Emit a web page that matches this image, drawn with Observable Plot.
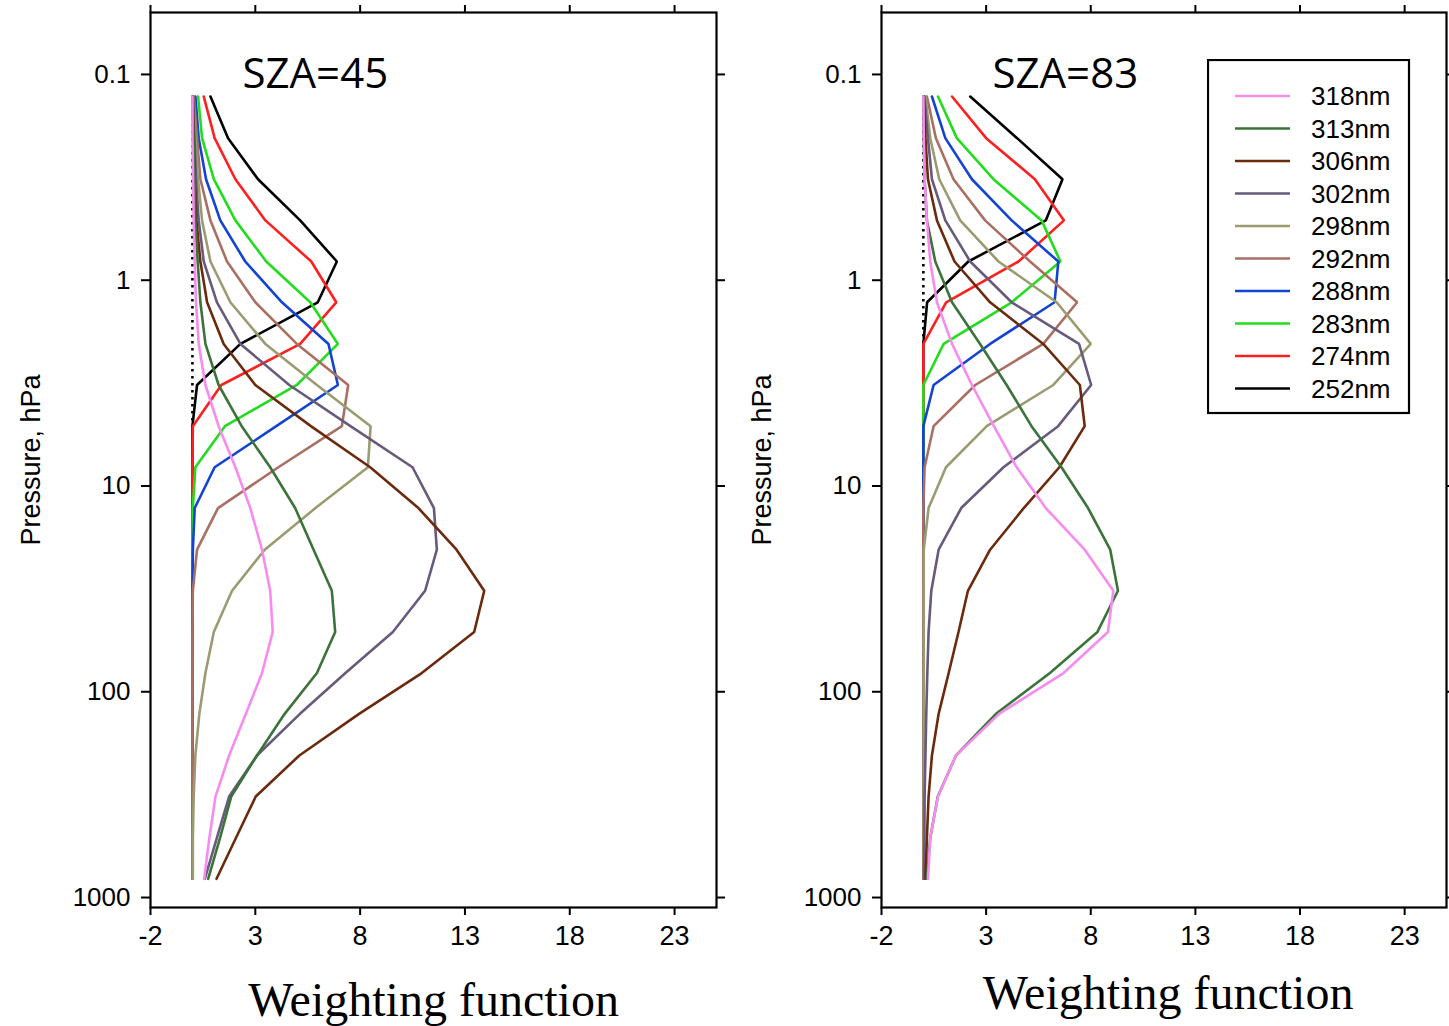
<!DOCTYPE html>
<html>
<head>
<meta charset="utf-8">
<script src="https://cdn.jsdelivr.net/npm/d3@7"></script>
<script src="https://cdn.jsdelivr.net/npm/@observablehq/plot@0.6"></script>
<style>
  html, body { margin: 0; padding: 0; background: #fff; }
  #wrap { position: relative; width: 1449px; height: 1026px; overflow: hidden; background: #fff; }
  .panel { position: absolute; top: 0; }
  #legend { position: absolute; left: 1207px; top: 59px; }
</style>
</head>
<body>
<div id="wrap"></div>
<script>
// Pressure levels (hPa), top to bottom
const pressure = [0.128, 0.204, 0.323, 0.512, 0.811, 1.28, 2.04, 3.23, 5.12, 8.11,
                  12.8, 20.4, 32.3, 51.2, 81.1, 128, 204, 323, 512, 811];

const wavelengths = ["318nm", "313nm", "306nm", "302nm", "298nm", "292nm", "288nm", "283nm", "274nm", "252nm"];
const colors      = ["#f68cf0", "#3b733b", "#6b2a0e", "#675a7c", "#9b9b72", "#a96f62", "#1343d2", "#22dd1e", "#ff1f1f", "#000000"];

const xTicks = [-2, 3, 8, 13, 18, 23];
const yTicks = [0.1, 1, 10, 100, 1000];
const panelTitles = ["SZA=45", "SZA=83"];
const xLabel = "Weighting function";
const yLabel = "Pressure, hPa";
// extent of the dotted zero reference (hPa) in each panel
const zeroDotTop = [0.128, 0.128];
const zeroDotBottom = [5.12, 2.04];

// SZA = 45
const wf45_318 = [0, 0, 0.03, 0.06, 0.11, 0.17, 0.30, 0.62, 1.25, 2.05, 2.76, 3.32, 3.71, 3.83, 3.32, 2.55, 1.75, 1.10, 0.81, 0.56];
const wf45_313 = [0, 0.05, 0.10, 0.14, 0.25, 0.38, 0.62, 1.25, 2.35, 3.71, 4.90, 5.78, 6.65, 6.81, 5.94, 4.40, 3.08, 1.85, 1.32, 0.75];
const wf45_306 = [0.02, 0.06, 0.11, 0.19, 0.38, 0.70, 1.49, 3.00, 5.65, 8.48, 10.78, 12.60, 13.92, 13.44, 10.94, 7.95, 5.10, 3.02, 2.08, 1.15];
const wf45_302 = [0.02, 0.10, 0.17, 0.30, 0.54, 1.17, 2.29, 4.62, 7.54, 10.50, 11.52, 11.66, 11.10, 9.56, 7.30, 5.13, 3.08, 1.75, 1.17, 0.59];
const wf45_298 = [0.03, 0.14, 0.27, 0.46, 0.86, 1.81, 3.48, 5.94, 8.50, 8.37, 5.87, 3.45, 1.89, 1.02, 0.62, 0.33, 0.14, 0.06, 0.02, 0.02];
const wf45_292 = [0.06, 0.22, 0.38, 0.86, 1.65, 3.00, 4.98, 7.43, 7.13, 4.10, 1.22, 0.22, 0.02, 0, 0, 0, 0, 0, 0, 0];
const wf45_288 = [0.14, 0.30, 0.65, 1.33, 2.52, 4.27, 6.49, 6.94, 4.00, 1.06, 0.11, 0.02, 0, 0, 0, 0, 0, 0, 0, 0];
const wf45_283 = [0.27, 0.46, 1.02, 2.05, 3.52, 5.62, 6.94, 4.98, 1.55, 0.14, 0.02, 0, 0, 0, 0, 0, 0, 0, 0, 0];
const wf45_274 = [0.54, 1.06, 2.05, 3.48, 5.67, 6.86, 5.14, 1.38, 0.02, 0, 0, 0, 0, 0, 0, 0, 0, 0, 0, 0];
const wf45_252 = [0.86, 1.70, 3.13, 5.14, 6.89, 5.98, 2.29, 0.22, 0, 0, 0, 0, 0, 0, 0, 0, 0, 0, 0, 0];

// SZA = 83
const wf83_318 = [0, 0.02, 0.06, 0.17, 0.33, 0.65, 1.37, 2.32, 3.37, 4.46, 5.85, 7.71, 9.08, 8.82, 6.70, 3.62, 1.56, 0.70, 0.33, 0.22];
const wf83_313 = [0, 0.02, 0.06, 0.17, 0.57, 1.37, 2.71, 3.98, 5.17, 6.60, 7.87, 8.93, 9.30, 8.32, 6.05, 3.47, 1.56, 0.69, 0.33, 0.17];
const wf83_306 = [0.02, 0.10, 0.22, 0.65, 1.49, 3.19, 5.73, 7.48, 7.71, 6.50, 4.80, 3.19, 2.13, 1.68, 1.21, 0.73, 0.41, 0.25, 0.17, 0.10];
const wf83_302 = [0.05, 0.22, 0.41, 1.05, 2.24, 4.22, 7.44, 8.02, 6.44, 3.83, 1.81, 0.73, 0.38, 0.25, 0.19, 0.14, 0.10, 0.06, 0.05, 0.03];
const wf83_298 = [0.10, 0.33, 0.76, 1.76, 3.59, 6.37, 8.00, 6.21, 3.03, 1.08, 0.25, 0.02, 0.02, 0.02, 0.02, 0.02, 0.02, 0.02, 0.02, 0.02];
const wf83_292 = [0.17, 0.60, 1.44, 2.95, 5.10, 7.35, 5.73, 2.48, 0.49, 0.06, 0, 0, 0, 0, 0, 0, 0, 0, 0, 0];
const wf83_288 = [0.41, 1.05, 2.32, 4.22, 6.45, 6.27, 3.19, 0.49, 0, 0, 0, 0, 0, 0, 0, 0, 0, 0, 0, 0];
const wf83_283 = [0.70, 1.60, 3.35, 5.65, 6.55, 4.22, 0.97, 0, 0, 0, 0, 0, 0, 0, 0, 0, 0, 0, 0, 0];
const wf83_274 = [1.37, 3.00, 5.33, 6.72, 4.55, 1.09, 0, 0, 0, 0, 0, 0, 0, 0, 0, 0, 0, 0, 0, 0];
const wf83_252 = [2.24, 4.48, 6.65, 5.85, 2.15, 0.18, 0, 0, 0, 0, 0, 0, 0, 0, 0, 0, 0, 0, 0, 0];

const series45 = [wf45_318, wf45_313, wf45_306, wf45_302, wf45_298, wf45_292, wf45_288, wf45_283, wf45_274, wf45_252];
const series83 = [wf83_318, wf83_313, wf83_306, wf83_302, wf83_298, wf83_292, wf83_288, wf83_283, wf83_274, wf83_252];

function toRows(series) {
  const rows = [];
  // draw 252nm first, 318nm last (on top)
  for (let i = series.length - 1; i >= 0; i--) {
    series[i].forEach((v, k) => rows.push({wl: wavelengths[i], value: v, pressure: pressure[k]}));
  }
  return rows;
}

const tickFont = "Liberation Sans, Arial, sans-serif";
const xTickFont = "Liberation Sans Narrow, Liberation Sans, Arial, sans-serif";

function panel(series, idx, cfg) {
  return Plot.plot({
    width: cfg.width,
    height: 1026,
    marginLeft: cfg.ml,
    marginRight: cfg.mr,
    marginTop: 12,
    marginBottom: 119,
    style: {background: "transparent", color: "black", overflow: "visible"},
    x: {domain: [-2, 25]},
    y: {type: "log", domain: [0.05, 1118], reverse: true},
    color: {domain: wavelengths, range: colors},
    marks: [
      Plot.ruleX([0], {y1: zeroDotTop[idx], y2: zeroDotBottom[idx], stroke: "black", strokeWidth: 2.6, strokeDasharray: "2.6,4.4"}),
      Plot.line(toRows(series), {x: "value", y: "pressure", z: "wl", stroke: "wl", strokeWidth: 2.6, strokeLinejoin: "miter"}),
      Plot.frame({stroke: "black", strokeWidth: 2.2}),
      Plot.axisY(yTicks, {anchor: "left", tickSize: 9, tickPadding: 11, strokeWidth: 2, tickFormat: d => String(d), fontSize: 26, fontFamily: tickFont, label: null}),
      Plot.axisY(yTicks, {anchor: "right", tickSize: 8, strokeWidth: 2, tickFormat: () => "", label: null}),
      Plot.axisX(xTicks, {anchor: "bottom", tickSize: 8, tickPadding: 10, strokeWidth: 2, tickFormat: d => String(d), fontSize: 27, fontFamily: xTickFont, label: null}),
      Plot.axisX(xTicks, {anchor: "top", tickSize: 8, strokeWidth: 2, tickFormat: () => "", label: null}),
      Plot.text([panelTitles[idx]], {frameAnchor: "top-left", textAnchor: "start", lineAnchor: "middle", dx: cfg.titleDx, dy: 62, fontSize: 42, fontFamily: "Open Sans, Noto Sans, sans-serif", fill: "black"}),
      Plot.text([xLabel], {frameAnchor: "bottom", textAnchor: "middle", lineAnchor: "middle", dy: cfg.xlDy, dx: cfg.xlDx, fontSize: 48, fontFamily: "Liberation Serif, Times New Roman, serif", fill: "black"}),
      Plot.text([yLabel], {frameAnchor: "left", textAnchor: "middle", rotate: -90, lineAnchor: "middle", dx: -119, dy: 0, fontSize: 27, fontFamily: tickFont, fill: "black"})
    ]
  });
}

const wrap = document.getElementById("wrap");

const left = panel(series45, 0, {width: 725, ml: 150, mr: 9, titleDx: 92, xlDy: 93, xlDx: 0});
const leftDiv = document.createElement("div");
leftDiv.className = "panel"; leftDiv.style.left = "0px";
leftDiv.appendChild(left);
wrap.appendChild(leftDiv);

const right = panel(series83, 1, {width: 724, ml: 156, mr: 3, titleDx: 111, xlDy: 86, xlDx: 4});
const rightDiv = document.createElement("div");
rightDiv.className = "panel"; rightDiv.style.left = "725px";
rightDiv.appendChild(right);
wrap.appendChild(rightDiv);

// Legend (built from wavelengths / colors)
const lg = d3.create("svg").attr("id", "legend").attr("width", 204).attr("height", 356);
lg.append("rect").attr("x", 1).attr("y", 1).attr("width", 201).attr("height", 353)
  .attr("fill", "white").attr("stroke", "black").attr("stroke-width", 2.2);
const rows = lg.selectAll("g").data(wavelengths).join("g")
  .attr("transform", (d, i) => `translate(0,${37 + i * 32.5})`);
rows.append("line").attr("x1", 28).attr("x2", 83).attr("y1", 0).attr("y2", 0)
  .attr("stroke", (d, i) => colors[i]).attr("stroke-width", 2.6);
rows.append("text").attr("x", 104).attr("y", 0).attr("dy", "0.35em")
  .attr("font-family", tickFont).attr("font-size", 26).attr("fill", "black").text(d => d);
wrap.appendChild(lg.node());
</script>
</body>
</html>
